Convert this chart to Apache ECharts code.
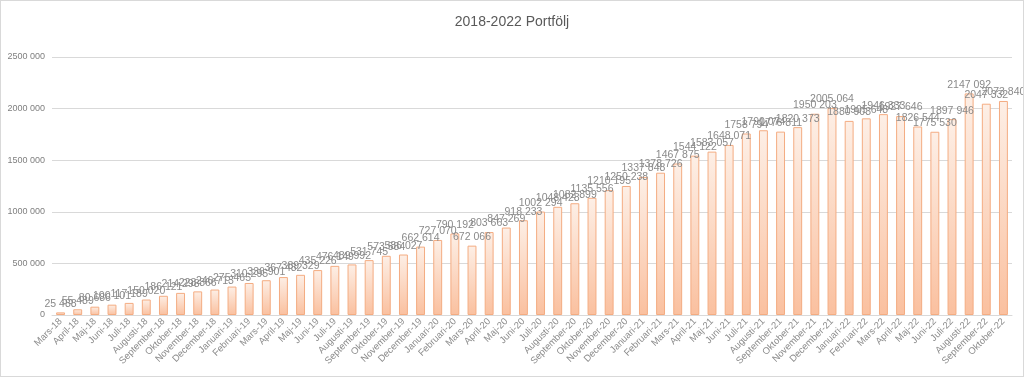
<!DOCTYPE html>
<html>
<head>
<meta charset="utf-8">
<script src="https://cdn.jsdelivr.net/npm/echarts@6/dist/echarts.min.js"></script>
<style>
html,body{margin:0;padding:0;background:#fff;}
#main{width:1022px;height:375px;border:1px solid #d9d9d9;}
</style>
</head>
<body>
<div id="main"></div>
<script>
var months = ['Mars-18','April-18','Maj-18','Juni-18','Juli-18','Augusti-18','September-18','Oktober-18','November-18','December-18',
    'Januari-19','Februari-19','Mars-19','April-19','Maj-19','Juni-19','Juli-19','Augusti-19','September-19','Oktober-19','November-19','December-19',
    'Januari-20','Februari-20','Mars-20','April-20','Maj-20','Juni-20','Juli-20','Augusti-20','September-20','Oktober-20','November-20','December-20',
    'Januari-21','Februari-21','Mars-21','April-21','Maj-21','Juni-21','Juli-21','Augusti-21','September-21','Oktober-21','November-21','December-21',
    'Januari-22','Februari-22','Mars-22','April-22','Maj-22','Juni-22','Juli-22','Augusti-22','September-22','Oktober-22'];

// portfolio value per month
var values = [25488,55489,80686,100101,117189,150020,186121,214298,228866,246713,
    275465,310295,336901,367482,389329,435226,476149,489992,531745,573584,586027,662614,
    727070,790192,672066,803663,847269,918233,1002294,1048428,1082899,1135556,1210195,1250238,
    1337848,1378726,1467875,1544122,1583057,1648071,1758794,1790074,1776811,1820373,1950203,2005064,
    1880903,1905648,1946333,1927646,1826544,1775530,1897946,2147092,2047332,2073840];

var yTicks = [0,500000,1000000,1500000,2000000,2500000];

var FONT = "'Liberation Sans', 'DejaVu Sans', sans-serif";

// "2147 092" style: only the last group split off
function fmt(v){
    if (v < 1000) return String(v);
    var r = String(v % 1000);
    while (r.length < 3) r = '0' + r;
    return Math.floor(v / 1000) + ' ' + r;
}

var myChart = echarts.init(document.getElementById('main'));
var option = {
    animation: false,
    title: {
        text: '2018-2022 Portfölj',
        left: 'center',
        top: 9,
        textStyle: {color: '#595959', fontSize: 14, fontWeight: 'normal', fontFamily: FONT}
    },
    grid: {left: 51, right: 11, top: 56, bottom: 61},
    xAxis: {
        type: 'category',
        data: months,
        axisLine: {lineStyle: {color: '#d9d9d9'}},
        axisTick: {show: false},
        axisLabel: {interval: 0, rotate: 45, fontSize: 9.5, color: '#8c8c8c', margin: 5, fontFamily: FONT}
    },
    yAxis: {
        type: 'value',
        min: yTicks[0],
        max: yTicks[yTicks.length - 1],
        interval: 500000,
        axisLine: {show: false},
        axisTick: {show: false},
        splitLine: {lineStyle: {color: '#d9d9d9'}},
        axisLabel: {fontSize: 9, color: '#7f7f7f', margin: 7, formatter: fmt, fontFamily: FONT}
    },
    series: [{
        type: 'bar',
        data: values,
        barWidth: '52%',
        itemStyle: {
            borderColor: '#f4ac82',
            borderWidth: 1,
            color: new echarts.graphic.LinearGradient(0, 0, 0, 1, [
                {offset: 0, color: '#fdefe6'},
                {offset: 1, color: '#fac09f'}
            ])
        },
        label: {
            show: true,
            position: 'top',
            distance: 3,
            fontSize: 10.5,
            color: '#8a8a8a',
            fontFamily: FONT,
            formatter: function(p){ return fmt(p.value); }
        }
    }]
};
myChart.setOption(option);
</script>
</body>
</html>
